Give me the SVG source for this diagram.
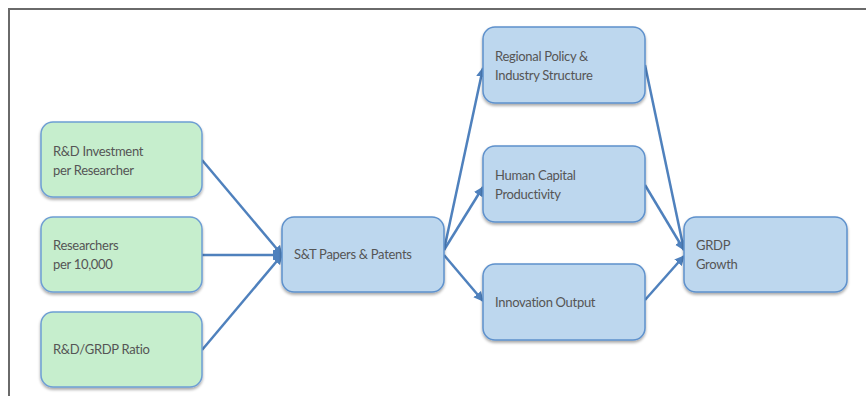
<svg xmlns="http://www.w3.org/2000/svg" width="866" height="396" viewBox="0 0 866 396">
  <defs>
    <marker id="arrow" viewBox="0 0 10 10" refX="9" refY="5" markerWidth="4" markerHeight="4" orient="auto" markerUnits="strokeWidth">
      <path d="M0,0 L10,5 L0,10 z" fill="#4F81BD"/>
    </marker>
    <filter id="shadow" x="-10%" y="-10%" width="120%" height="130%">
      <feGaussianBlur in="SourceAlpha" stdDeviation="1.5"/>
      <feOffset dx="0" dy="2" result="b"/>
      <feComponentTransfer><feFuncA type="linear" slope="0.35"/></feComponentTransfer>
      <feMerge><feMergeNode/><feMergeNode in="SourceGraphic"/></feMerge>
    </filter>
  </defs>
  <style>
    .frame { fill: none; stroke: #6a6a6a; stroke-width: 2; }
    .input { fill: #C6EECD; stroke: #6E9ED3; stroke-width: 1.5; filter: url(#shadow); }
    .stage { fill: #BDD7EE; stroke: #5E91CC; stroke-width: 1.5; filter: url(#shadow); }
    .label { font-family: Lato, "Liberation Sans", sans-serif; font-size: 13px; letter-spacing: -0.3px; fill: #555555; }
    .edge { fill: none; stroke: #4F81BD; stroke-width: 2.5; marker-end: url(#arrow); }
  </style>

  <rect width="866" height="396" fill="#ffffff"/>
  <path class="frame" d="M9,396 V9 H866"/>

  <g id="connectors">
    <line class="edge" x1="202" y1="160" x2="282" y2="255"/>
    <line class="edge" x1="202" y1="255" x2="282" y2="255"/>
    <line class="edge" x1="202" y1="350" x2="282" y2="255"/>
    <line class="edge" x1="444" y1="250" x2="483" y2="68"/>
    <line class="edge" x1="444" y1="250" x2="483" y2="187"/>
    <line class="edge" x1="444" y1="255" x2="483" y2="301"/>
    <line class="edge" x1="645" y1="65" x2="684" y2="250"/>
    <line class="edge" x1="645" y1="185" x2="684" y2="250"/>
    <line class="edge" x1="645" y1="300" x2="684" y2="256"/>
  </g>

  <g id="rd-investment">
    <rect class="input" x="41" y="122" width="161" height="75" rx="12"/>
    <text class="label" x="53" y="156">R&amp;D Investment</text>
    <text class="label" x="53" y="175">per Researcher</text>
  </g>
  <g id="researchers">
    <rect class="input" x="41" y="217" width="161" height="75" rx="12"/>
    <text class="label" x="53" y="250">Researchers</text>
    <text class="label" x="53" y="269">per 10,000</text>
  </g>
  <g id="rd-grdp-ratio">
    <rect class="input" x="41" y="312" width="161" height="75" rx="12"/>
    <text class="label" x="53" y="354">R&amp;D/GRDP Ratio</text>
  </g>

  <g id="papers-patents">
    <rect class="stage" x="282" y="217" width="162" height="75" rx="12"/>
    <text class="label" x="294" y="259">S&amp;T Papers &amp; Patents</text>
  </g>

  <g id="regional-policy">
    <rect class="stage" x="483" y="27" width="162" height="76" rx="12"/>
    <text class="label" x="495" y="61">Regional Policy &amp;</text>
    <text class="label" x="495" y="80">Industry Structure</text>
  </g>
  <g id="human-capital">
    <rect class="stage" x="483" y="146" width="162" height="76" rx="12"/>
    <text class="label" x="495" y="180">Human Capital</text>
    <text class="label" x="495" y="199">Productivity</text>
  </g>
  <g id="innovation-output">
    <rect class="stage" x="483" y="264" width="162" height="76" rx="12"/>
    <text class="label" x="495" y="307">Innovation Output</text>
  </g>

  <g id="grdp-growth">
    <rect class="stage" x="684" y="217" width="163" height="75" rx="12"/>
    <text class="label" x="696" y="250">GRDP</text>
    <text class="label" x="696" y="269">Growth</text>
  </g>
</svg>
